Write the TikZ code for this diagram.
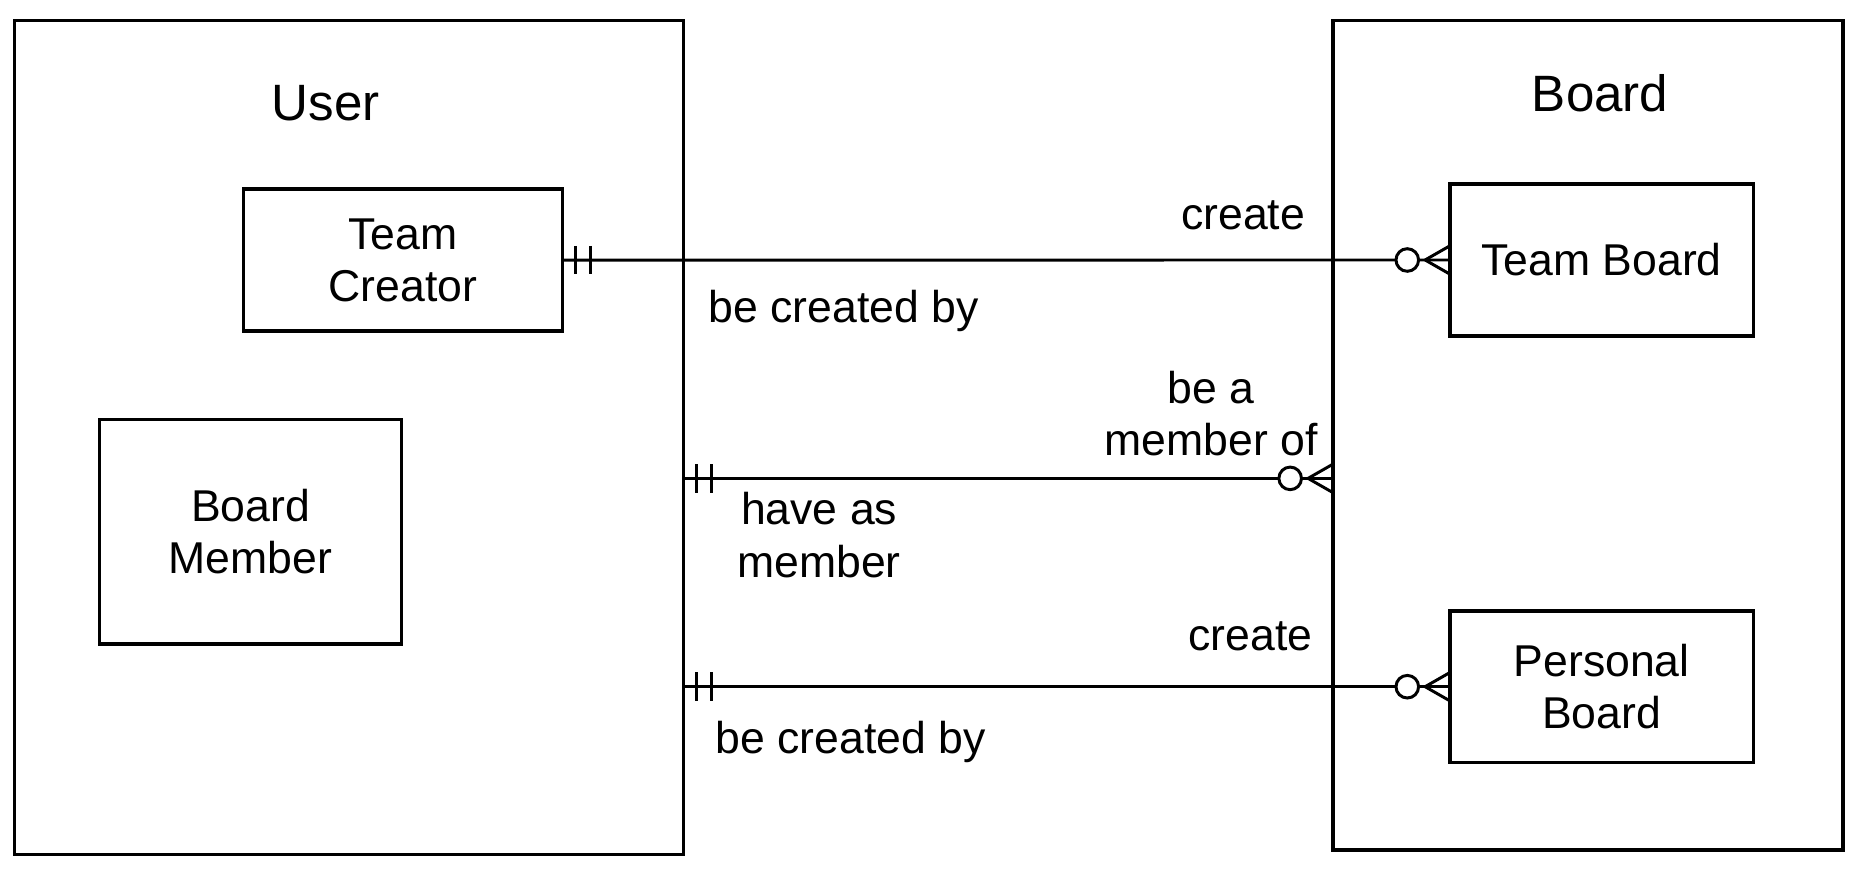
\documentclass[tikz,border=0pt]{standalone}
\usepackage{fontspec}
\setmainfont{Liberation Sans}
\usetikzlibrary{calc}
\newcommand\lblfont{\fontsize{37.5}{44}\selectfont}
\newcommand\ttlfont{\fontsize{43}{50}\selectfont}
\tikzset{
  ent/.style={draw, line width=2.7pt, rectangle, outer sep=0pt, inner sep=0pt, align=center, font=\lblfont},
  txt/.style={inner sep=0pt, align=center, font=\lblfont},
  ttl/.style={inner sep=0pt, font=\ttlfont},
  conn/.style={line width=2.5pt},
  erone/.pic={\draw[conn] (11,-12) -- (11,12) (23.5,-12) -- (23.5,12);},
  ermany/.pic={\draw[conn] (-21,0) -- (0,12) (-21,0) -- (0,-12);
               \draw[conn,fill=white] (-36,0) circle[radius=9.5pt];}
}
\begin{document}
\begin{tikzpicture}[x=1pt,y=-1pt]
\useasboundingbox (0,0) rectangle (1568,732);
% entities
\node[ent, minimum width=562.5pt, minimum height=701.2pt] (user) at (293.75,368) {};
\node[ent, minimum width=429pt, minimum height=697.6pt] (board) at (1335.8,366.2) {};
\node[ttl] (usert) at (274,87) {User};
\node[ttl] (boardt) at (1346,78.5) {Board};
\node[ent, minimum width=268pt, minimum height=119.5pt] (tc) at (339,218.75) {Team\\Creator};
\node[ent, minimum width=254.5pt, minimum height=188.7pt] (bm) at (210.75,447.3) {Board\\Member};
\node[ent, minimum width=255pt, minimum height=127.8pt] (tb) at (1347.3,218.7) {Team Board};
\node[ent, minimum width=255pt, minimum height=127.3pt] (pb) at (1347.3,577.65) {Personal\\Board};
% connectors
\coordinate (y2) at (0,402.4);
\coordinate (u2) at (user.east |- y2);
\coordinate (b2) at (board.west |- y2);
\coordinate (u3) at (user.east |- pb.west);
\draw[conn] (tc.east) -- (tb.west);
\draw[conn] (u2) -- (b2);
\draw[conn] (u3) -- (pb.west);
\pic at (tc.east) {erone};
\pic at (tb.west) {ermany};
\pic at (u2) {erone};
\pic at (b2) {ermany};
\pic at (u3) {erone};
\pic at (pb.west) {ermany};
% labels
\node[txt] (l1a) at (1045.8,181) {create};
\node[txt] (l1b) at (709.5,262) {be created by};
\node[txt] (l2a) at (1019,348) {be a\\member of};
\node[txt] (l2b) at (689,450) {have as\\member};
\node[txt] (l3a) at (1051.8,535.5) {create};
\node[txt] (l3b) at (715.5,624) {be created by};
\end{tikzpicture}
\end{document}
